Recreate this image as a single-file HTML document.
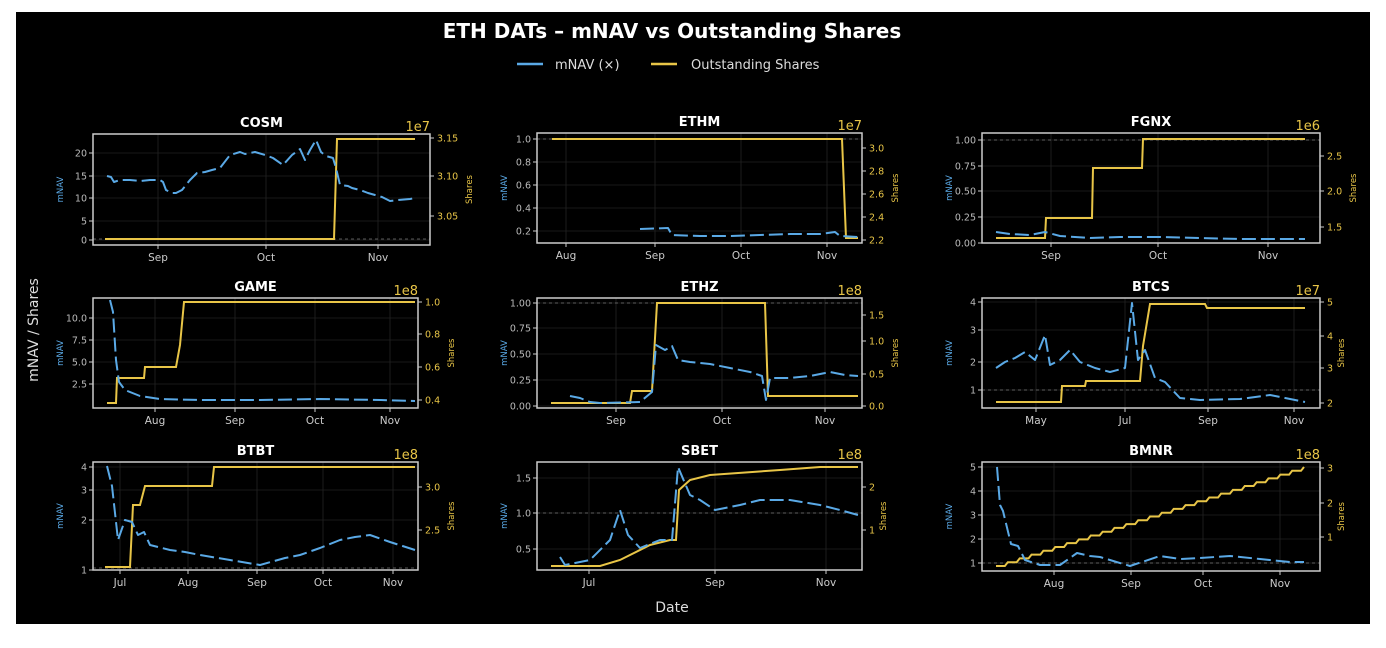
<!DOCTYPE html>
<html><head><meta charset="utf-8"><style>
html,body{margin:0;padding:0;background:#fff;width:1386px;height:648px;overflow:hidden}
svg{display:block;font-family:"DejaVu Sans","Liberation Sans",sans-serif}
</style></head><body>
<svg id="s" width="1386" height="648" xmlns="http://www.w3.org/2000/svg">
<rect x="0" y="0" width="1386" height="648" fill="#fff"/>
<rect x="16" y="12" width="1354" height="612" fill="#000"/>
<text x="672" y="38" text-anchor="middle" fill="#fff" font-size="20" font-weight="bold">ETH DATs – mNAV vs Outstanding Shares</text>
<line x1="517" y1="64" x2="543" y2="64" stroke="#5aa9e6" stroke-width="2.5"/>
<text x="555" y="69" fill="#ddd" font-size="13">mNAV (×)</text>
<line x1="651" y1="64" x2="677" y2="64" stroke="#e8c547" stroke-width="2.5"/>
<text x="691" y="69" fill="#ddd" font-size="13">Outstanding Shares</text>
<text transform="translate(38,330) rotate(-90)" text-anchor="middle" fill="#ddd" font-size="14">mNAV / Shares</text>
<text x="672" y="612" text-anchor="middle" fill="#ddd" font-size="14">Date</text>
<g id="g"></g>
</svg>
<script>
const P=[
{t:"COSM",b:[93,134,430,245],e:"1e7",L:[[240,"0"],[221,"5"],[198,"10"],[176,"15"],[153,"20"]],R:[[216,"3.05"],[176,"3.10"],[138,"3.15"]],X:[[158,"Sep"],[266,"Oct"],[378,"Nov"]],ref:239,
Y:[[105,239],[334,239],[337,139],[415,139]],
B:[[107,176],[111,177],[114,182],[120,180],[130,180],[140,181],[150,180],[160,180],[163,182],[166,190],[172,193],[176,193],[182,190],[190,180],[197,173],[205,172],[212,170],[220,168],[230,155],[240,152],[245,154],[255,152],[265,155],[273,158],[283,165],[292,155],[300,149],[305,160],[310,150],[316,140],[321,152],[326,156],[333,158],[336,168],[340,185],[348,186],[352,188],[360,190],[368,193],[375,195],[382,197],[390,201],[398,200],[410,199],[415,198]]},
{t:"ETHM",b:[537,133,862,243],e:"1e7",L:[[139,"1.0"],[162,"0.8"],[185,"0.6"],[208,"0.4"],[231,"0.2"]],R:[[148,"3.0"],[171,"2.8"],[194,"2.6"],[217,"2.4"],[240,"2.2"]],X:[[566,"Aug"],[655,"Sep"],[741,"Oct"],[827,"Nov"]],ref:139,
Y:[[552,139],[842,139],[846,238],[858,238]],
B:[[640,229],[668,228],[672,235],[700,236],[730,236],[760,235],[790,234],[820,234],[835,232],[840,236],[858,237]]},
{t:"FGNX",b:[982,133,1320,243],e:"1e6",L:[[140,"1.00"],[166,"0.75"],[191,"0.50"],[217,"0.25"],[243,"0.00"]],R:[[156,"2.5"],[191,"2.0"],[227,"1.5"]],X:[[1051,"Sep"],[1158,"Oct"],[1268,"Nov"]],ref:140,
Y:[[996,238],[1045,238],[1046,218],[1092,218],[1093,168],[1142,168],[1143,139],[1305,139]],
B:[[996,232],[1010,234],[1030,235],[1045,232],[1060,236],[1090,238],[1120,237],[1160,237],[1200,238],[1240,239],[1280,239],[1305,239]]},
{t:"GAME",b:[93,298,418,408],e:"1e8",L:[[318,"10.0"],[340,"7.5"],[362,"5.0"],[384,"2.5"]],R:[[302,"1.0"],[334,"0.8"],[367,"0.6"],[400,"0.4"]],X:[[155,"Aug"],[235,"Sep"],[315,"Oct"],[390,"Nov"]],ref:null,
Y:[[107,403],[116,403],[117,378],[144,378],[145,367],[176,367],[180,345],[184,302],[415,302]],
B:[[110,300],[113,312],[116,360],[119,382],[125,390],[140,396],[160,399],[200,400],[260,400],[320,399],[380,400],[415,401]]},
{t:"ETHZ",b:[537,298,862,408],e:"1e8",L:[[303,"1.00"],[328,"0.75"],[354,"0.50"],[380,"0.25"],[406,"0.00"]],R:[[315,"1.5"],[341,"1.0"],[374,"0.5"],[406,"0.0"]],X:[[616,"Sep"],[722,"Oct"],[825,"Nov"]],ref:303,
Y:[[551,403],[630,403],[632,391],[652,391],[657,303],[765,303],[768,396],[858,396]],
B:[[570,396],[580,398],[590,402],[600,403],[640,402],[652,392],[656,345],[665,350],[672,346],[678,360],[690,362],[710,364],[730,368],[750,372],[762,376],[766,400],[770,378],[790,378],[810,376],[830,372],[845,375],[858,376]]},
{t:"BTCS",b:[982,298,1320,408],e:"1e7",L:[[302,"4"],[330,"3"],[362,"2"],[390,"1"]],R:[[302,"5"],[336,"4"],[368,"3"],[403,"2"]],X:[[1036,"May"],[1125,"Jul"],[1208,"Sep"],[1294,"Nov"]],ref:390,
Y:[[996,402],[1061,402],[1062,386],[1085,386],[1086,381],[1140,381],[1143,346],[1150,304],[1205,304],[1207,308],[1305,308]],
B:[[996,368],[1005,362],[1015,358],[1025,352],[1035,360],[1045,335],[1050,365],[1060,360],[1070,350],[1080,362],[1095,368],[1110,372],[1125,368],[1132,303],[1138,360],[1145,350],[1155,378],[1165,382],[1180,398],[1200,400],[1240,399],[1270,395],[1300,401],[1305,402]]},
{t:"BTBT",b:[93,462,418,570],e:"1e8",L:[[467,"4"],[490,"3"],[520,"2"],[570,"1"]],R:[[487,"3.0"],[530,"2.5"]],X:[[120,"Jul"],[188,"Aug"],[257,"Sep"],[323,"Oct"],[393,"Nov"]],ref:568,
Y:[[105,567],[130,567],[133,505],[140,505],[145,486],[212,486],[214,467],[415,467]],
B:[[107,466],[112,486],[118,540],[125,520],[132,522],[138,535],[144,532],[150,545],[170,550],[185,552],[200,555],[230,560],[260,565],[285,558],[300,555],[320,548],[340,540],[355,537],[370,535],[390,542],[415,550]]},
{t:"SBET",b:[537,462,862,570],e:"1e8",L:[[478,"1.5"],[513,"1.0"],[549,"0.5"]],R:[[487,"2"],[530,"1"]],X:[[589,"Jul"],[715,"Sep"],[826,"Nov"]],ref:513,
Y:[[551,566],[600,566],[620,560],[650,545],[670,540],[676,540],[679,490],[690,480],[710,475],[780,470],[820,467],[858,467]],
B:[[560,557],[565,565],[590,560],[610,540],[620,510],[628,535],[640,548],[660,540],[672,540],[678,467],[690,495],[700,500],[715,510],[740,505],[760,500],[790,500],[820,505],[840,510],[858,515]]},
{t:"BMNR",b:[982,462,1320,571],e:"1e8",L:[[467,"5"],[491,"4"],[515,"3"],[539,"2"],[563,"1"]],R:[[468,"3"],[503,"2"],[537,"1"]],X:[[1054,"Aug"],[1131,"Sep"],[1203,"Oct"],[1280,"Nov"]],ref:563,
Y:"stair",
B:[[997,467],[1000,505],[1003,511],[1011,544],[1018,546],[1025,560],[1040,565],[1060,565],[1077,553],[1090,556],[1100,557],[1130,566],[1160,556],[1180,559],[1200,558],[1230,556],[1260,559],[1290,562],[1304,562]]}
];
const NS="http://www.w3.org/2000/svg",g=document.getElementById("g");
function el(n,a,t){const e=document.createElementNS(NS,n);for(const k in a)e.setAttribute(k,a[k]);if(t!=null)e.textContent=t;g.appendChild(e);return e;}
function pts(a){return a.map(p=>p[0]+","+p[1]).join(" ");}
for(const p of P){
 const [x0,y0,x1,y1]=p.b;
 for(const l of p.L) el("line",{x1:x0,x2:x1,y1:l[0],y2:l[0],stroke:"#222","stroke-width":0.8});
 for(const t of p.X) el("line",{x1:t[0],x2:t[0],y1:y0,y2:y1,stroke:"#222","stroke-width":0.8});
 if(p.ref) el("line",{x1:x0,x2:x1,y1:p.ref,y2:p.ref,stroke:"#777","stroke-width":0.8,"stroke-dasharray":"3 3"});
 let Y=p.Y;
 if(Y==="stair"){Y=[];let x=996,y=566;Y.push([x,y]);const n=26;for(let i=0;i<n;i++){const nx=996+(1304-996)*(i+1)/n;const ny=566-(566-467)*(i+1)/n;Y.push([nx-3,y]);Y.push([nx,ny]);y=ny;}}
 el("polyline",{points:pts(Y),fill:"none",stroke:"#e8c547","stroke-width":2});
 el("polyline",{points:pts(p.B),fill:"none",stroke:"#5aa9e6","stroke-width":2,"stroke-dasharray":"14 5","stroke-linejoin":"round"});
 el("rect",{x:x0,y:y0,width:x1-x0,height:y1-y0,fill:"none",stroke:"#ccc","stroke-width":1.5});
 el("text",{x:(x0+x1)/2,y:y0-7,"text-anchor":"middle",fill:"#fff","font-size":13,"font-weight":"bold"},p.t);
 el("text",{x:x1,y:y0-3,"text-anchor":"end",fill:"#e8c547","font-size":13},p.e);
 for(const l of p.L){el("line",{x1:x0-4,x2:x0,y1:l[0],y2:l[0],stroke:"#ccc"});el("text",{x:x0-6,y:l[0]+3.5,"text-anchor":"end",fill:"#bbb","font-size":9.5},l[1]);}
 for(const l of p.R){el("line",{x1:x1,x2:x1+4,y1:l[0],y2:l[0],stroke:"#ccc"});el("text",{x:x1+7,y:l[0]+3.5,fill:"#e8c547","font-size":9.5},l[1]);}
 for(const t of p.X){el("line",{x1:t[0],x2:t[0],y1:y1,y2:y1+4,stroke:"#ccc"});el("text",{x:t[0],y:y1+16,"text-anchor":"middle",fill:"#ccc","font-size":10.5},t[1]);}
 const ym=(y0+y1)/2;
 el("text",{transform:`translate(${x0-30},${ym}) rotate(-90)`,"text-anchor":"middle",fill:"#5aa9e6","font-size":8.5},"mNAV");
 const rw=Math.max(...p.R.map(r=>r[1].length))*6;
 const sx=x1+rw+18;
 el("text",{transform:`translate(${sx},${ym}) rotate(-90)`,"text-anchor":"middle",fill:"#e8c547","font-size":8.5},"Shares");
}
</script>
</body></html>
